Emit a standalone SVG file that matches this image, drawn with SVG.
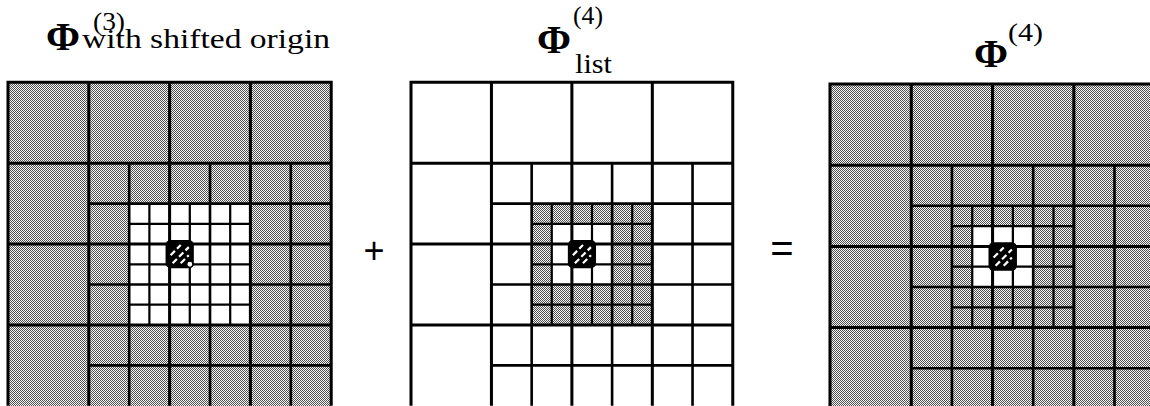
<svg xmlns="http://www.w3.org/2000/svg" width="1150" height="406" viewBox="0 0 1150 406">
<defs>
<pattern id="dither" width="2" height="2" patternUnits="userSpaceOnUse">
<rect width="2" height="2" fill="#f6f6f6"/>
<rect width="1" height="1" fill="#505050"/>
<rect x="1" y="1" width="1" height="1" fill="#505050"/>
</pattern>
<g id="grid">
<path class="big" d="M0,320 V0 H320 V320 M80,0 V320 M160,0 V320 M240,0 V320 M0,80 H320 M0,160 H320 M0,240 H320"/>
<path class="mid" d="M120,80 V320 M200,80 V320 M280,80 V320 M80,120 H320 M80,200 H320 M80,280 H320"/>
<path class="small" d="M140,120 V240 M180,120 V240 M220,120 V240 M120,140 H240 M120,180 H240 M120,220 H240"/>
</g>
<g id="target">
<rect x="156" y="156" width="28" height="28" rx="5" fill="#000"/>
<path d="M161,171 L171,161 M163,179 L179,163 M171,179 L179,171" stroke="#fff" stroke-width="2.2" stroke-dasharray="6 3" fill="none"/>
</g>
</defs>
<style>
.big { fill: none; stroke: #000; stroke-width: 3; }
.mid { fill: none; stroke: #000; stroke-width: 2.6; }
.small { fill: none; stroke: #000; stroke-width: 2.2; }
.shade { fill: url(#dither); }
.phi { font-family: "Liberation Serif", "DejaVu Serif", serif; font-weight: bold; font-size: 41px; fill: #000; }
.sup { font-family: "Liberation Serif", "DejaVu Serif", serif; font-size: 25px; fill: #000; }
.sub { font-family: "Liberation Serif", "DejaVu Serif", serif; font-size: 28px; fill: #000; }
.op { font-family: "Liberation Sans", "DejaVu Sans", sans-serif; fill: #000; text-anchor: middle; }
</style>
<rect width="1150" height="406" fill="#fff"/>

<g id="panel-left">
<rect class="shade" x="8" y="82.3" width="323.2" height="324"/>
<rect x="129.2" y="203.6" width="121.2" height="121.3" fill="#fff"/>
<g transform="translate(8,82.3) scale(1.01,1.011)">
<use href="#grid"/>
<use href="#target"/>
<circle cx="180" cy="180" r="3" fill="#fff" stroke="#000" stroke-width="1.2"/>
</g>
<text class="phi" x="46" y="49.5">Φ</text>
<text class="sup" x="93" y="29.5" textLength="32" lengthAdjust="spacingAndGlyphs">(3)</text>
<text class="sub" x="82" y="47.5" textLength="248" lengthAdjust="spacingAndGlyphs">with shifted origin</text>
</g>

<g id="panel-middle">
<rect class="shade" x="531.7" y="203.6" width="120.6" height="121.3"/>
<rect x="551.8" y="223.8" width="60.3" height="60.7" fill="#fff"/>
<g transform="translate(411,82.3) scale(1.0055,1.011)">
<use href="#grid"/>
<use href="#target"/>
</g>
<text class="phi" x="537" y="53">Φ</text>
<text class="sup" x="573" y="23.5" textLength="30" lengthAdjust="spacingAndGlyphs">(4)</text>
<text class="sub" x="575" y="72.5" textLength="37" lengthAdjust="spacingAndGlyphs">list</text>
</g>

<g id="panel-right">
<rect class="shade" x="830" y="84" width="330" height="330"/>
<rect x="972.2" y="226.1" width="61" height="60.9" fill="#fff"/>
<g transform="translate(830,84) scale(1.016,1.015)">
<use href="#grid"/>
<use href="#target"/>
</g>
<text class="phi" x="974" y="66.5">Φ</text>
<text class="sup" x="1008" y="40.5" textLength="35" lengthAdjust="spacingAndGlyphs">(4)</text>
</g>

<g id="operators">
<text class="op" x="374" y="263" font-size="36">+</text>
<text class="op" x="782" y="262" font-size="40">=</text>
</g>
</svg>
